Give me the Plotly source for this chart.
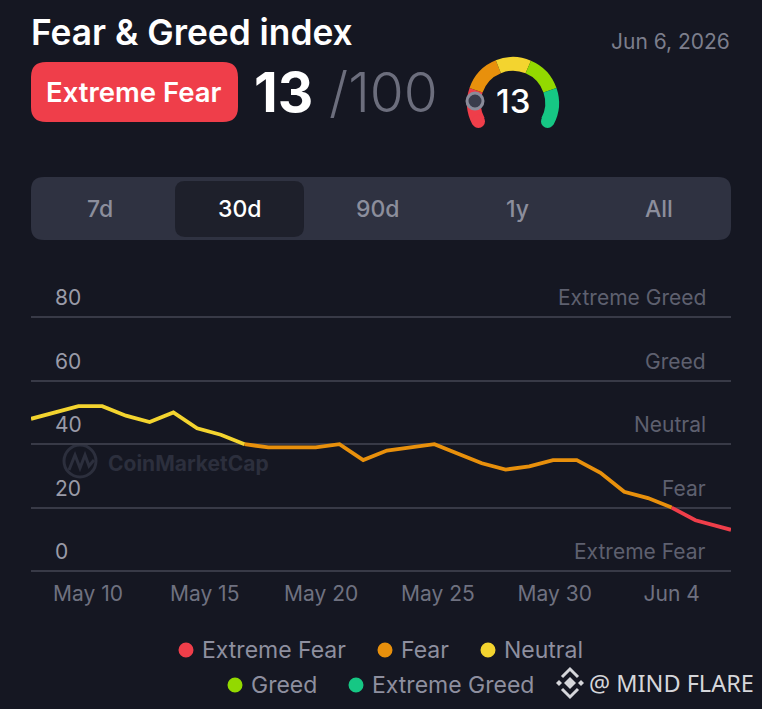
import plotly.graph_objects as go

W, H = 762, 709
BG = "#151722"

dates = ["2026-05-08","2026-05-09","2026-05-10","2026-05-11","2026-05-12","2026-05-13","2026-05-14",
         "2026-05-15","2026-05-16","2026-05-17","2026-05-18","2026-05-19","2026-05-20","2026-05-21",
         "2026-05-22","2026-05-23","2026-05-24","2026-05-25","2026-05-26","2026-05-27","2026-05-28",
         "2026-05-29","2026-05-30","2026-05-31","2026-06-01","2026-06-02","2026-06-03","2026-06-04",
         "2026-06-05","2026-06-06","2026-06-06 12:00"]
index_values = [48,50,52,52,49,47,50,45,43,40,39,39,39,40,35,38,39,40,37,34,32,33,35,35,31,25,23,20,16,14,13]
tick_dates = ["2026-05-10 09:36","2026-05-15 07:40","2026-05-20 05:30","2026-05-25 03:36","2026-05-30 01:40","2026-06-04"]
tick_labels = ["May 10","May 15","May 20","May 25","May 30","Jun 4"]
y_ticks = [0,20,40,60,80]
band_names = ["Extreme Fear","Fear","Neutral","Greed","Extreme Greed"]
band_colors = ["#EF3E4A","#E8900C","#F3D42F","#93D900","#16C784"]
gauge_sizes = [47,49,45,48,47,124]
tabs = ["7d","30d","90d","1y","All"]

def X(x): return x / W
def Y(y): return 1 - y / H

def rrect(x0, y0, x1, y1, r):
    p = [(x0+r,y0),(x1-r,y0),(x1,y0,x1,y0+r),(x1,y1-r),(x1,y1,x1-r,y1),(x0+r,y1),(x0,y1,x0,y1-r),(x0,y0+r),(x0,y0,x0+r,y0)]
    s = ""
    for i, q in enumerate(p):
        if len(q) == 2:
            s += ("M" if i == 0 else "L") + f"{X(q[0]):.5f},{Y(q[1]):.5f} "
        else:
            s += f"Q{X(q[0]):.5f},{Y(q[1]):.5f} {X(q[2]):.5f},{Y(q[3]):.5f} "
    return s + "Z"

def poly(pts, close=True):
    s = "M" + " L".join(f"{X(a):.5f},{Y(b):.5f}" for a, b in pts)
    return s + (" Z" if close else "")

def circle(cx, cy, r, fill, line=None, lw=0, layer="above"):
    return dict(type="circle", xref="paper", yref="paper", x0=X(cx-r), x1=X(cx+r), y0=Y(cy+r), y1=Y(cy-r),
                fillcolor=fill, line=dict(color=line or fill, width=lw), layer=layer)

def path(d, fill=None, line=None, lw=0, layer="above"):
    return dict(type="path", xref="paper", yref="paper", path=d, fillcolor=fill or "rgba(0,0,0,0)",
                line=dict(color=line or "rgba(0,0,0,0)", width=lw), layer=layer)

def text(x, y, s, size, color, anchor="left", weight=400, font="Inter"):
    return dict(xref="paper", yref="paper", x=X(x), y=Y(y), text=s, showarrow=False, xanchor=anchor, yanchor="middle",
                font=dict(family=font, size=size, color=color, weight=weight))

fig = go.Figure()

# line, coloured per segment by sentiment band
def band_of(v):
    return 2 if v >= 40 else (1 if v >= 20 else 0)
for b in (2, 1, 0):
    ys = [None] * len(index_values)
    for i in range(len(index_values) - 1):
        if band_of((index_values[i] + index_values[i+1]) / 2) == b:
            ys[i] = index_values[i]
            ys[i+1] = index_values[i+1]
    fig.add_trace(go.Scatter(x=dates, y=ys, mode="lines", name=band_names[b], showlegend=False,
                             line=dict(color=band_colors[b], width=3.8), connectgaps=False, hoverinfo="skip",
                             cliponaxis=False))

# gauge
fig.add_trace(go.Pie(values=gauge_sizes, sort=False, direction="clockwise", rotation=-118, hole=0.7,
                     marker=dict(colors=band_colors + ["rgba(0,0,0,0)"], line=dict(width=0)),
                     textinfo="none", hoverinfo="skip", showlegend=False,
                     domain=dict(x=[X(513-46), X(513+46)], y=[Y(103+46), Y(103-46)])))

shapes = [
    path(rrect(31, 62, 238, 122, 15), fill="#EF3E4A", layer="below"),
    path(rrect(31, 177, 731, 240, 13), fill="#2F3241", layer="below"),
    path(rrect(175, 181, 304, 237, 10), fill="#1E202B", layer="below"),
    circle(478.4, 121.4, 6.6, band_colors[0]),
    circle(547.6, 121.4, 6.6, band_colors[4]),
    circle(475, 101, 8, "#3A3D4C", "#8A8C9A", 3),
    # CoinMarketCap watermark
    circle(80, 461, 16, "rgba(0,0,0,0)", "#2C2F3D", 3, "below"),
    path(poly([(69,470),(75,455),(80,468),(85,455),(89,466),(94,460)], False), line="#2C2F3D", lw=3, layer="below"),
    # exchange logo
    path(poly([(570,677),(576,683),(570,689),(564,683)]), fill="#D5D6DA"),
    path(poly([(556,683),(559,680),(562,683),(559,686)]), fill="#D5D6DA"),
    path(poly([(578,683),(581,680),(584,683),(581,686)]), fill="#D5D6DA"),
    path(poly([(562,677),(570,669),(578,677)], False), line="#D5D6DA", lw=3),
    path(poly([(562,689),(570,697),(578,689)], False), line="#D5D6DA", lw=3),
]

ann = [
    text(29, 32, "Fear &amp; Greed index", 35.3, "#FFFFFF", weight=600),
    text(732, 41, "Jun 6, 2026", 21, "#7C7E8C", "right"),
    text(134, 92, "Extreme Fear", 27.5, "#FFFFFF", "center", 600),
    text(252, 92, "13", 55, "#FFFFFF", weight=700),
    text(327, 92, "/100", 55, "#6C6E7D", weight=300),
    text(513, 101, "13", 33, "#FFFFFF", "center", 500),
    text(106, 463, "CoinMarketCap", 21, "#2C2F3D", weight=700),
    text(587, 683, "@ MIND FLARE", 23.5, "#D5D6DA", font="Noto Sans"),
]
for name, cx in zip(tabs, [100, 239, 378, 517, 659]):
    ann.append(text(cx, 209, name, 23, "#FFFFFF" if name == "30d" else "#8C8E9C", "center", 500))

# value labels and band captions sit just above each gridline
for name, v in zip(band_names, y_ticks):
    ann.append(dict(xref="paper", yref="y", x=X(708), y=v, text=name, showarrow=False, xanchor="right", yanchor="middle",
                    yshift=19.5, font=dict(family="Inter", size=21, color="#5E606F")))
    ann.append(dict(xref="paper", yref="y", x=X(52.5), y=v, text=str(v), showarrow=False, xanchor="left", yanchor="middle",
                    yshift=19.5, font=dict(family="Inter", size=21, color="#9A9BA8")))

# legend
legend_pos = [(186, 650, 200), (385, 650, 399), (488, 650, 502), (235, 685, 249), (356, 685, 370)]
for (cx, cy, tx), name, col in zip(legend_pos, band_names, band_colors):
    shapes.append(circle(cx, cy, 7.5, col))
    ann.append(text(tx, cy, name, 23, "#8E8F9F"))

PX_PER_UNIT = 3.17
Y_MIN, Y_MAX = -5, 90
fig.update_layout(
    width=W, height=H, autosize=False, margin=dict(l=0, r=0, t=0, b=0),
    paper_bgcolor=BG, plot_bgcolor="rgba(0,0,0,0)", showlegend=False, shapes=shapes, annotations=ann,
    font=dict(family="Inter"),
    xaxis=dict(type="date", domain=[X(31), X(731)], range=["2026-05-08","2026-06-06 12:00"],
               tickvals=tick_dates, ticktext=tick_labels, showgrid=False, zeroline=False, showline=False,
               ticks="", anchor="free", position=Y(579),
               tickfont=dict(family="Inter", size=21, color="#6F7180")),
    yaxis=dict(domain=[Y(571 - Y_MIN * PX_PER_UNIT), Y(571 - Y_MAX * PX_PER_UNIT)], range=[Y_MIN, Y_MAX],
               tickvals=y_ticks, showticklabels=False,
               showgrid=True, gridcolor="#383A47", gridwidth=1.5, zeroline=False, showline=False, ticks=""),
)
fig.write_html("out.html", config=dict(displayModeBar=False),
               post_script="document.body.style.margin='0';document.body.style.background='%s';document.documentElement.style.overflow='hidden';" % BG)
